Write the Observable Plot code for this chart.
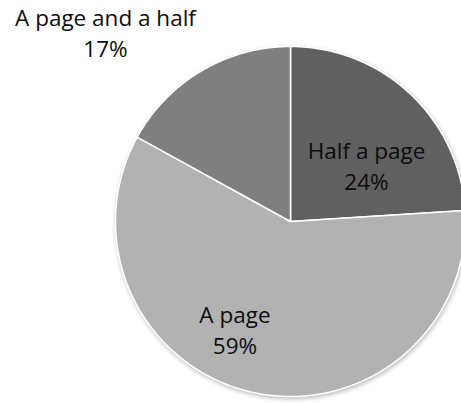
<!DOCTYPE html>
<html>
<head>
<meta charset="utf-8">
<script src="https://cdn.jsdelivr.net/npm/d3@7"></script>
<script src="https://cdn.jsdelivr.net/npm/@observablehq/plot@0.6"></script>
<style>
  html, body { margin: 0; padding: 0; background: #fff; }
  #chart svg g[aria-label="line"] { filter: drop-shadow(1px 2px 2px rgba(0,0,0,0.25)); }
</style>
</head>
<body>
<div id="chart"></div>
<script>
// Data
const categories = ["Half a page", "A page", "A page and a half"];
const shares = [24, 59, 17];
const percentLabels = ["24%", "59%", "17%"];
const sliceColors = ["#606060", "#b2b2b2", "#7f7f7f"];

// Layout (pixels)
const W = 461, H = 403;
const cx = 290, cy = 221, R = 175;

// Pie angles (clockwise from 12 o'clock)
const arcs = d3.pie().sort(null).value(d => d.share)(
  categories.map((c, i) => ({cat: c, share: shares[i], pct: percentLabels[i]}))
);

// Outline points of each slice in unit-radius coordinates
const pts = [];
for (const a of arcs) {
  const cat = a.data.cat;
  pts.push({cat, x: 0, y: 0});
  const n = Math.max(2, Math.ceil((a.endAngle - a.startAngle) / (Math.PI / 360)));
  for (let k = 0; k <= n; k++) {
    const t = a.startAngle + (a.endAngle - a.startAngle) * k / n;
    pts.push({cat, x: Math.sin(t), y: Math.cos(t)});
  }
}

// Label placement (polar, degrees clockwise from top, radius in pie radii)
const labelPlace = {
  "Half a page": {deg: 54.6, r: 0.533},
  "A page": {deg: 206.8, r: 0.704},
  "A page and a half": {deg: 315.3, r: 1.503}
};
const labels = arcs.map(a => {
  const p = labelPlace[a.data.cat];
  const t = p.deg * Math.PI / 180;
  return {text: a.data.cat + "\n" + a.data.pct, x: p.r * Math.sin(t), y: p.r * Math.cos(t)};
});

const chart = Plot.plot({
  width: W,
  height: H,
  margin: 0,
  style: {background: "#fff", fontFamily: "'Open Sans', sans-serif"},
  x: {domain: [-cx / R, (W - cx) / R], range: [0, W], axis: null},
  y: {domain: [-(H - cy) / R, cy / R], range: [H, 0], axis: null},
  color: {domain: categories, range: sliceColors},
  marks: [
    Plot.line(pts, {x: "x", y: "y", z: "cat", fill: "cat", stroke: "white", strokeWidth: 1.5, curve: "linear-closed", strokeLinejoin: "round"}),
    Plot.text(labels, {x: "x", y: "y", dy: -3, text: "text", fontSize: 22.5, lineHeight: 1.4, fill: "#0d0d0d", fontFamily: "'Open Sans', sans-serif"})
  ]
});
document.getElementById("chart").appendChild(chart);
</script>
</body>
</html>
